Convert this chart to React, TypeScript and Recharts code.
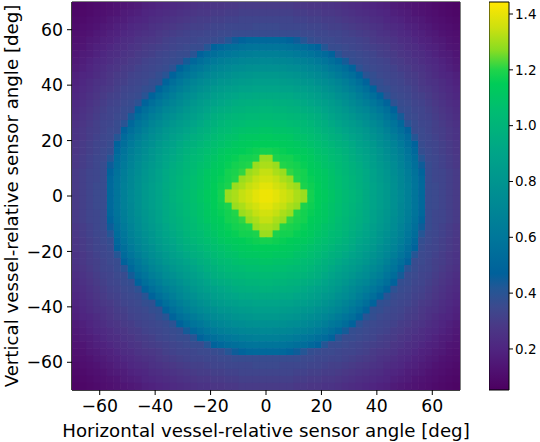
import { ScatterChart, Scatter, XAxis, YAxis, ReferenceArea, Label } from 'recharts';

// cell centres (deg) from the middle outwards; cells are 2.5 deg wide
const halfCenters = [
  1.25, 3.75, 6.25, 8.75, 11.25, 13.75, 16.25, 18.75, 21.25, 23.75, 26.25, 28.75, 31.25, 33.75,
  36.25, 38.75, 41.25, 43.75, 46.25, 48.75, 51.25, 53.75, 56.25, 58.75, 61.25, 63.75, 66.25, 68.75,
];

// The map is mirror-symmetric about both axes, so one quadrant was read:
// row k = vertical angle halfCenters[k], column m = horizontal angle halfCenters[m]
const quadrantRows = [
  [1.41,1.39,1.36,1.34,1.31,1.29,1.18,1.15,1.13,1.10,1.07,1.04,1.01,0.98,0.94,0.90,0.86,0.82,0.77,0.72,0.66,0.59,0.52,0.36,0.35,0.33,0.31,0.29],
  [1.39,1.36,1.34,1.31,1.29,1.19,1.17,1.15,1.12,1.09,1.06,1.03,1.00,0.97,0.94,0.90,0.86,0.82,0.77,0.71,0.66,0.59,0.52,0.36,0.35,0.33,0.31,0.29],
  [1.36,1.34,1.31,1.29,1.20,1.18,1.16,1.14,1.12,1.09,1.06,1.03,1.00,0.97,0.93,0.89,0.85,0.81,0.76,0.71,0.65,0.58,0.51,0.36,0.34,0.33,0.31,0.29],
  [1.34,1.31,1.29,1.21,1.19,1.18,1.15,1.13,1.11,1.08,1.05,1.02,0.99,0.96,0.93,0.89,0.84,0.80,0.75,0.70,0.64,0.57,0.49,0.36,0.34,0.33,0.31,0.29],
  [1.31,1.29,1.20,1.19,1.18,1.16,1.14,1.12,1.09,1.07,1.04,1.01,0.98,0.95,0.91,0.87,0.83,0.79,0.74,0.68,0.62,0.55,0.45,0.36,0.34,0.32,0.30,0.28],
  [1.29,1.19,1.18,1.18,1.16,1.15,1.13,1.10,1.08,1.05,1.03,1.00,0.96,0.93,0.90,0.86,0.81,0.77,0.72,0.67,0.60,0.54,0.41,0.35,0.34,0.32,0.30,0.28],
  [1.18,1.17,1.16,1.15,1.14,1.13,1.11,1.08,1.06,1.04,1.01,0.98,0.95,0.91,0.88,0.84,0.80,0.75,0.70,0.65,0.58,0.51,0.37,0.35,0.33,0.31,0.29,0.27],
  [1.15,1.15,1.14,1.13,1.12,1.10,1.08,1.06,1.04,1.01,0.98,0.96,0.93,0.89,0.86,0.82,0.77,0.73,0.68,0.62,0.55,0.48,0.36,0.34,0.33,0.31,0.29,0.27],
  [1.13,1.12,1.12,1.11,1.09,1.08,1.06,1.04,1.01,0.98,0.96,0.93,0.90,0.87,0.83,0.79,0.75,0.70,0.65,0.59,0.53,0.41,0.35,0.34,0.32,0.30,0.28,0.26],
  [1.10,1.09,1.09,1.08,1.07,1.05,1.04,1.01,0.98,0.96,0.93,0.90,0.87,0.84,0.81,0.76,0.72,0.67,0.61,0.55,0.48,0.36,0.35,0.33,0.31,0.30,0.28,0.26],
  [1.07,1.06,1.06,1.05,1.04,1.03,1.01,0.98,0.96,0.93,0.90,0.87,0.84,0.81,0.77,0.73,0.69,0.63,0.58,0.51,0.40,0.36,0.34,0.33,0.31,0.29,0.27,0.25],
  [1.04,1.03,1.03,1.02,1.01,1.00,0.98,0.96,0.93,0.90,0.87,0.84,0.81,0.77,0.74,0.69,0.65,0.59,0.54,0.44,0.36,0.35,0.33,0.32,0.30,0.28,0.26,0.24],
  [1.01,1.00,1.00,0.99,0.98,0.96,0.95,0.93,0.90,0.87,0.84,0.81,0.77,0.73,0.70,0.65,0.60,0.55,0.48,0.37,0.36,0.34,0.33,0.31,0.29,0.27,0.25,0.23],
  [0.98,0.97,0.97,0.96,0.95,0.93,0.91,0.89,0.87,0.84,0.81,0.77,0.73,0.69,0.65,0.60,0.55,0.49,0.39,0.36,0.35,0.33,0.32,0.30,0.28,0.26,0.24,0.22],
  [0.94,0.94,0.93,0.93,0.91,0.90,0.88,0.86,0.83,0.81,0.77,0.74,0.70,0.65,0.60,0.55,0.49,0.40,0.36,0.35,0.34,0.32,0.31,0.29,0.27,0.25,0.23,0.21],
  [0.90,0.90,0.89,0.89,0.87,0.86,0.84,0.82,0.79,0.76,0.73,0.69,0.65,0.60,0.55,0.49,0.38,0.37,0.35,0.34,0.33,0.31,0.29,0.28,0.26,0.24,0.22,0.20],
  [0.86,0.86,0.85,0.84,0.83,0.81,0.80,0.77,0.75,0.72,0.69,0.65,0.60,0.55,0.49,0.38,0.37,0.35,0.34,0.33,0.31,0.30,0.28,0.26,0.25,0.23,0.21,0.19],
  [0.82,0.82,0.81,0.80,0.79,0.77,0.75,0.73,0.70,0.67,0.63,0.59,0.55,0.49,0.40,0.37,0.35,0.34,0.33,0.32,0.30,0.29,0.27,0.25,0.23,0.21,0.20,0.18],
  [0.77,0.77,0.76,0.75,0.74,0.72,0.70,0.68,0.65,0.61,0.58,0.54,0.48,0.39,0.36,0.35,0.34,0.33,0.32,0.30,0.29,0.27,0.26,0.24,0.22,0.20,0.18,0.16],
  [0.72,0.71,0.71,0.70,0.68,0.67,0.65,0.62,0.59,0.55,0.51,0.44,0.37,0.36,0.35,0.34,0.33,0.32,0.30,0.29,0.27,0.26,0.24,0.22,0.21,0.19,0.17,0.15],
  [0.66,0.66,0.65,0.64,0.62,0.60,0.58,0.55,0.53,0.48,0.40,0.36,0.36,0.35,0.34,0.33,0.31,0.30,0.29,0.27,0.26,0.24,0.23,0.21,0.19,0.17,0.16,0.14],
  [0.59,0.59,0.58,0.57,0.55,0.54,0.51,0.48,0.41,0.36,0.36,0.35,0.34,0.33,0.32,0.31,0.30,0.29,0.27,0.26,0.24,0.23,0.21,0.19,0.18,0.16,0.14,0.13],
  [0.52,0.52,0.51,0.49,0.45,0.41,0.37,0.36,0.35,0.35,0.34,0.33,0.33,0.32,0.31,0.29,0.28,0.27,0.26,0.24,0.23,0.21,0.19,0.18,0.16,0.15,0.13,0.12],
  [0.36,0.36,0.36,0.36,0.36,0.35,0.35,0.34,0.34,0.33,0.33,0.32,0.31,0.30,0.29,0.28,0.26,0.25,0.24,0.22,0.21,0.19,0.18,0.16,0.15,0.13,0.12,0.11],
  [0.35,0.35,0.34,0.34,0.34,0.34,0.33,0.33,0.32,0.31,0.31,0.30,0.29,0.28,0.27,0.26,0.25,0.23,0.22,0.21,0.19,0.18,0.16,0.15,0.13,0.12,0.11,0.10],
  [0.33,0.33,0.33,0.33,0.32,0.32,0.31,0.31,0.30,0.30,0.29,0.28,0.27,0.26,0.25,0.24,0.23,0.21,0.20,0.19,0.17,0.16,0.15,0.13,0.12,0.11,0.10,0.09],
  [0.31,0.31,0.31,0.31,0.30,0.30,0.29,0.29,0.28,0.28,0.27,0.26,0.25,0.24,0.23,0.22,0.21,0.20,0.18,0.17,0.16,0.14,0.13,0.12,0.11,0.10,0.09,0.08],
  [0.29,0.29,0.29,0.29,0.28,0.28,0.27,0.27,0.26,0.26,0.25,0.24,0.23,0.22,0.21,0.20,0.19,0.18,0.16,0.15,0.14,0.13,0.12,0.11,0.10,0.09,0.08,0.07],
];

const angleTicks = [-60, -40, -20, 0, 20, 40, 60];
const colorbarTicks = [0.2, 0.4, 0.6, 0.8, 1.0, 1.2, 1.4];
const vMin = 0.053;
const vMax = 1.443;

// colour scale
const cmapStops: [number, string][] = [
  [0.05, '#4c0060'],
  [0.12, '#4f1070'],
  [0.2, '#4f2580'],
  [0.28, '#4a3886'],
  [0.35, '#3c4a8e'],
  [0.42, '#215896'],
  [0.47, '#00619b'],
  [0.6, '#00779a'],
  [0.75, '#008d92'],
  [0.9, '#00a488'],
  [1.05, '#00bc72'],
  [1.15, '#00cc58'],
  [1.2, '#20d44a'],
  [1.27, '#88dc22'],
  [1.35, '#cce010'],
  [1.44, '#ffe600'],
];

const FONT = '"DejaVu Sans", sans-serif';
const CHART_W = 470;
const CHART_H = 442;
const MARGIN = { top: 2, right: 10, bottom: 0, left: 0 };
const Y_AXIS_W = 72;
const X_AXIS_H = 52;
const PLOT_W = CHART_W - MARGIN.left - MARGIN.right - Y_AXIS_W;
const PLOT_H = CHART_H - MARGIN.top - MARGIN.bottom - X_AXIS_H;
const CELL_DEG = 2.5;
const cellW = (PLOT_W * CELL_DEG) / 140;
const cellH = (PLOT_H * CELL_DEG) / 140;

const hexToRgb = (h: string) => [1, 3, 5].map((i) => parseInt(h.slice(i, i + 2), 16));

function heatColor(v: number) {
  if (v <= cmapStops[0][0]) return cmapStops[0][1];
  for (let i = 1; i < cmapStops.length; i++) {
    const [v1, c1] = cmapStops[i];
    if (v <= v1) {
      const [v0, c0] = cmapStops[i - 1];
      const t = (v - v0) / (v1 - v0);
      const a = hexToRgb(c0);
      const b = hexToRgb(c1);
      const rgb = a.map((x, k) => Math.round(x + (b[k] - x) * t));
      return `rgb(${rgb.join(',')})`;
    }
  }
  return cmapStops[cmapStops.length - 1][1];
}

const fmtAngle = (v: number) => (v < 0 ? `\u2212${-v}` : `${v}`);

// mirror the quadrant into the four quadrants
const cells: { x: number; y: number; v: number }[] = [];
quadrantRows.forEach((row, k) => {
  row.forEach((v, m) => {
    const ax = halfCenters[m];
    const ay = halfCenters[k];
    cells.push({ x: ax, y: ay, v }, { x: -ax, y: ay, v }, { x: ax, y: -ay, v }, { x: -ax, y: -ay, v });
  });
});

const HeatCell = (props: any) => {
  const { cx, cy, payload } = props;
  const col = heatColor(payload.v);
  return (
    <rect x={cx - cellW / 2 - 0.3} y={cy - cellH / 2 - 0.3} width={cellW + 0.6} height={cellH + 0.6} fill={col} />
  );
};

const XLabel = ({ viewBox }: any) => (
  <text x={viewBox.x + viewBox.width / 2} y={437} textAnchor="middle" fontSize={18.2} fontFamily={FONT} fill="#000">
    Horizontal vessel-relative sensor angle [deg]
  </text>
);

const YLabel = ({ viewBox }: any) => {
  const cy = viewBox.y + viewBox.height / 2;
  return (
    <text x={18} y={cy} transform={`rotate(-90 18 ${cy})`} textAnchor="middle" fontSize={18.2} fontFamily={FONT} fill="#000">
      Vertical vessel-relative sensor angle [deg]
    </text>
  );
};

export default function App() {
  return (
    <div style={{ position: 'absolute', left: 0, top: 0, width: 540, height: 442, background: '#fff' }}>
      <div style={{ position: 'absolute', left: 0, top: 0 }}>
        <ScatterChart width={CHART_W} height={CHART_H} margin={MARGIN}>
          <XAxis
            type="number"
            dataKey="x"
            domain={[-70, 70]}
            ticks={angleTicks}
            tickFormatter={fmtAngle}
            height={X_AXIS_H}
            tickSize={5}
            tickMargin={5}
            stroke="#000"
            tick={{ fill: '#000', fontSize: 17.3, fontFamily: FONT }}
            allowDataOverflow
          >
            <Label content={<XLabel />} />
          </XAxis>
          <YAxis
            type="number"
            dataKey="y"
            domain={[-70, 70]}
            ticks={angleTicks}
            tickFormatter={fmtAngle}
            width={Y_AXIS_W}
            tickSize={5}
            tickMargin={4}
            stroke="#000"
            tick={{ fill: '#000', fontSize: 17.3, fontFamily: FONT }}
            allowDataOverflow
          >
            <Label content={<YLabel />} />
          </YAxis>
          <Scatter data={cells} shape={<HeatCell />} isAnimationActive={false} />
          <ReferenceArea x1={-70} x2={70} y1={-70} y2={70} fill="none" stroke="#000" strokeWidth={1} />
        </ScatterChart>
      </div>
      <div style={{ position: 'absolute', left: 489, top: 0 }}>
        <ScatterChart width={51} height={442} margin={{ top: 2, right: 0, bottom: 52, left: 0 }}>
          <defs>
            <linearGradient id="cbarGrad" x1="0" y1="1" x2="0" y2="0">
              {cmapStops.map(([v, c], i) => (
                <stop key={i} offset={`${((v - vMin) / (vMax - vMin)) * 100}%`} stopColor={c} />
              ))}
            </linearGradient>
          </defs>
          <XAxis type="number" dataKey="x" domain={[0, 1]} hide allowDataOverflow />
          <YAxis
            type="number"
            dataKey="y"
            orientation="right"
            domain={[vMin, vMax]}
            ticks={colorbarTicks}
            tickFormatter={(v: number) => v.toFixed(1)}
            width={31}
            tickSize={4}
            tickMargin={2}
            stroke="#000"
            axisLine={false}
            tick={{ fill: '#000', fontSize: 13.5, fontFamily: FONT }}
            allowDataOverflow
          />
          <ReferenceArea x1={0} x2={1} y1={vMin} y2={vMax} fill="url(#cbarGrad)" fillOpacity={1} stroke="#000" strokeWidth={1} />
        </ScatterChart>
      </div>
    </div>
  );
}
